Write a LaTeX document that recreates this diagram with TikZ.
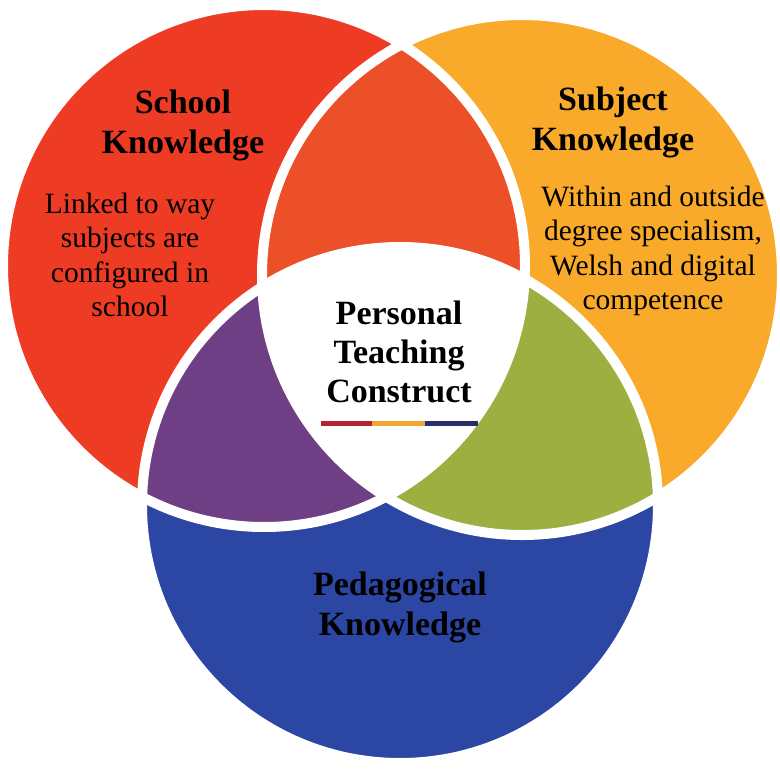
\documentclass[tikz,border=0pt]{standalone}
\usepackage{fontspec}
\setmainfont{Liberation Serif}
\usetikzlibrary{positioning}

\definecolor{schoolred}{RGB}{238,59,36}
\definecolor{lensred}{RGB}{235,80,40}
\definecolor{subjorange}{RGB}{249,170,42}
\definecolor{pedblue}{RGB}{43,71,163}
\definecolor{mixpurple}{RGB}{111,63,134}
\definecolor{mixgreen}{RGB}{156,175,64}
\definecolor{barred}{RGB}{181,35,47}
\definecolor{barorange}{RGB}{239,167,47}
\definecolor{barblue}{RGB}{40,48,107}

\tikzset{head/.style={font=\bfseries\fontsize{34}{40}\selectfont, align=center, inner sep=0pt}}
\tikzset{body/.style={font=\fontsize{29.5}{34.5}\selectfont, align=center, inner sep=0pt}}
\tikzset{gap/.style={draw=white, line width=10pt}}
\tikzset{bar/.style={line width=5pt}}

\newcommand{\rSchool}{261pt}
\newcommand{\rSubject}{260pt}
\newcommand{\rPed}{258pt}

\begin{document}
\begin{tikzpicture}[x=1pt, y=-1pt]
        \useasboundingbox (0,0) rectangle (780,769);
        \clip (0,0) rectangle (780,769);
        \fill[white] (0,0) rectangle (780,769);

        \coordinate (sc) at (264,266);
        \coordinate (su) at (522,275);
        \coordinate (pe) at (400,505);

        % the three circles
        \fill[schoolred] (sc) circle[radius=\rSchool];
        \fill[subjorange] (su) circle[radius=\rSubject];
        \fill[pedblue] (pe) circle[radius=\rPed];

        % overlaps
        \begin{scope}
            \clip (sc) circle[radius=\rSchool];
            \fill[lensred] (su) circle[radius=\rSubject];
            \fill[mixpurple] (pe) circle[radius=\rPed];
        \end{scope}
        \begin{scope}
            \clip (su) circle[radius=\rSubject];
            \fill[mixgreen] (pe) circle[radius=\rPed];
        \end{scope}
        \begin{scope}
            \clip (sc) circle[radius=\rSchool];
            \clip (su) circle[radius=\rSubject];
            \fill[white] (pe) circle[radius=\rPed];
        \end{scope}

        \draw[gap] (sc) circle[radius=\rSchool];
        \draw[gap] (su) circle[radius=\rSubject];
        \draw[gap] (pe) circle[radius=\rPed];

        % labels
        \node[head] (schoolk) at (183,125) {School\\Knowledge};
        \node[body] (schooltxt) at (130,255) {Linked to way\\subjects are\\configured in\\school};

        \node[head] (subjk) at (613,122) {Subject\\Knowledge};
        \node[body] (subjtxt) at (653,251) {Within and outside\\degree specialism,\\Welsh and digital\\competence};

        \node[head, font=\bfseries\fontsize{34}{39}\selectfont] (ptc) at (399,352) {Personal\\Teaching\\Construct};

        \node[head] (pedk) at (400,607) {Pedagogical\\Knowledge};

        \coordinate (b0) at (321,423);
        \coordinate (b1) at (372,423);
        \coordinate (b2) at (425,423);
        \coordinate (b3) at (478,423);
        \draw[bar, barred] (b0) -- (b1);
        \draw[bar, barorange] (b1) -- (b2);
        \draw[bar, barblue] (b2) -- (b3);
    \end{tikzpicture}
\end{document}
